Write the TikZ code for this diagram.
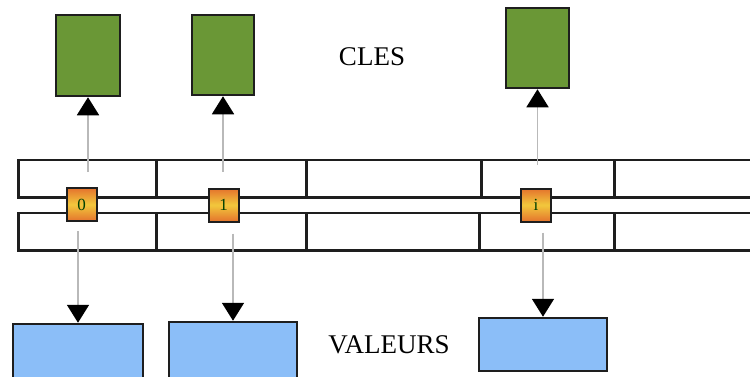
\documentclass[tikz,border=0pt]{standalone}
\usepackage{fontspec}
\setmainfont{Liberation Serif}
\usetikzlibrary{arrows.meta}
\definecolor{cleGreen}{RGB}{106,151,54}
\definecolor{valBlue}{RGB}{139,190,248}
\definecolor{keyOrange}{RGB}{228,115,45}
\definecolor{keyYellow}{RGB}{242,200,60}
\definecolor{edge}{RGB}{30,30,30}
\definecolor{linkGray}{RGB}{185,185,185}
\tikzset{
  clebox/.style={draw=edge, line width=2.5pt, fill=cleGreen, minimum width=63pt, minimum height=80pt, inner sep=0pt},
  valbox/.style={draw=edge, line width=2.5pt, fill=valBlue, minimum width=129pt, inner sep=0pt},
  keybox/.style={draw=edge, line width=2pt, top color=keyOrange, bottom color=keyOrange, middle color=keyYellow,
    minimum width=30pt, minimum height=33pt, inner sep=0pt, font=\fontsize{17}{17}\selectfont, text=black!75!green},
  cell/.style={draw=edge, line width=2.5pt, anchor=north west, minimum height=37.5pt, inner sep=0pt},
  link/.style={draw=linkGray, line width=1.8pt, -{Triangle[width=22pt,length=18pt,black]}},
  caption/.style={font=\fontsize{27}{30}\selectfont, text=black}
}
\begin{document}
\begin{tikzpicture}[x=1pt,y=-1pt]
  \useasboundingbox (0,0) rectangle (750,376);
  \clip (0,0) rectangle (750,376);

  % table rows (upper and lower), open on the right
  \node[cell, minimum width=138pt] (t0) at (17,158.5) {};
  \node[cell, minimum width=150pt] (t1) at (155,158.5) {};
  \node[cell, minimum width=175pt] (t2) at (305,158.5) {};
  \node[cell, minimum width=133pt] (t3) at (480,158.5) {};
  \node[cell, minimum width=150pt] (t4) at (613,158.5) {};
  \node[cell, minimum width=138pt] (b0) at (17,211.5) {};
  \node[cell, minimum width=150pt] (b1) at (155,211.5) {};
  \node[cell, minimum width=173pt] (b2) at (305,211.5) {};
  \node[cell, minimum width=135pt] (b3) at (478,211.5) {};
  \node[cell, minimum width=150pt] (b4) at (613,211.5) {};

  % hash keys
  \node[keybox] (k0) at (81.5,204.5) {0};
  \node[keybox] (k1) at (223.5,205) {1};
  \node[keybox] (k2) at (536,205) {i};

  % keys
  \node[clebox, minimum width=64pt, minimum height=81pt] (g0) at (88,55.5) {};
  \node[clebox, minimum width=62pt] (g1) at (223,55) {};
  \node[clebox] (g2) at (537.5,48) {};
  \node[caption] (cles) at (372,57) {CLES};

  % values
  \node[valbox, minimum width=130pt, minimum height=60pt] (v0) at (78,354) {};
  \node[valbox, minimum width=128pt, minimum height=60pt] (v1) at (233,352) {};
  \node[valbox, minimum width=128pt, minimum height=53pt] (v2) at (543,344.5) {};
  \node[caption] (valeurs) at (389,345) {VALEURS};

  % links from the hash keys
  \draw[link, shorten <=15pt] (k0.north -| g0.south) -- (g0.south);
  \draw[link, shorten <=16pt] (k1.north -| g1.south) -- (g1.south);
  \draw[link, shorten <=23pt] (k2.north -| g2.south) -- (g2.south);
  \draw[link, shorten <=9pt] (k0.south -| v0.north) -- (v0.north);
  \draw[link, shorten <=11pt] (k1.south -| v1.north) -- (v1.north);
  \draw[link, shorten <=10pt] (k2.south -| v2.north) -- (v2.north);
\end{tikzpicture}
\end{document}
